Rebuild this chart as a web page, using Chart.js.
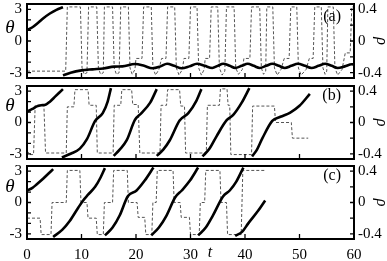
<!DOCTYPE html>
<html>
<head>
<meta charset="utf-8">
<script src="https://cdn.jsdelivr.net/npm/chart.js@4.4.1/dist/chart.umd.min.js"></script>
<style>
  body { margin:0; background:#fff; }
  #wrap { position:relative; width:387px; height:261px; }
  #wrap canvas { position:absolute; left:0; top:0; }
</style>
</head>
<body>
<div id="wrap">
  <canvas id="panelA" width="387" height="261"></canvas>
  <canvas id="panelB" width="387" height="261"></canvas>
  <canvas id="panelC" width="387" height="261"></canvas>
</div>
<script>
// ---------- DATA ----------
// tick values
const tTicks = [0,10,20,30,40,50,60];
const tMinor = [10,20,30,40,50];
const thetaTicks = [-3,0,3];
const thetaMinor = [-3,-2,-1,0,1,2,3];
const rhoTicks = [-0.4,0,0.4];
const rhoMinor = [-0.4,-0.2,0,0.2,0.4];

// panel (a): theta (solid, null = wrap) and rho (dashed)
const aThetaT = [0,1,2,3,4.2,5.4,6.6, null,
  6.6,8,10,12,14,16,17.5,19.8,21.5,23,24.5,25.7,27,28.4,29.8,31.2,32.6,34,35,36,37.2,38.2,39.4,40.5,41.6,42.7,43.9,45,46.2,47.3,48.5,49.7,51,52.2,53.5,54.7,55.9,57,58.3,59.6,60];
const aThetaV = [1.05,1.3,1.7,2.15,2.6,2.95,3.2, null,
  -3.25,-3.0,-2.78,-2.68,-2.6,-2.42,-2.4,-2.18,-2.35,-2.58,-2.4,-2.15,-2.35,-2.58,-2.4,-2.15,-2.35,-2.55,-2.35,-2.15,-2.35,-2.55,-2.35,-2.15,-2.35,-2.55,-2.35,-2.15,-2.35,-2.55,-2.35,-2.15,-2.35,-2.55,-2.35,-2.15,-2.35,-2.55,-2.4,-2.2,-2.22];
const aRhoT = [0,7.1,7.4,9.8,10.1,10.5,11.0,11.3,12.8,13.1,13.5,14.0,14.2,15.7,16.0,16.4,16.9,17.2,18.6,18.9,19.3,19.8,20.0,21.1,21.4,22.8,
  23.1,23.6,24.2,24.7,25.5,25.8,27.1,27.4,27.9,28.5,28.8,29.7,30.0,31.2,31.5,32.0,32.5,32.7,33.5,33.8,35.0,35.3,35.8,36.3,36.6,38.0,
  38.3,38.8,39.5,39.8,40.9,41.2,42.7,43.0,43.4,43.8,44.0,45.1,45.4,45.9,46.6,47.2,48.1,48.4,49.5,49.8,50.3,51.2,51.8,52.5,52.8,54.0,
  54.3,54.7,55.0,55.2,56.2,56.5,57.0,57.8,58.4,59.3,59.6,60];
const aRhoV = [-0.38,-0.38,0.43,0.43,-0.34,-0.42,-0.40,0.43,0.43,-0.34,-0.42,-0.40,0.43,0.43,-0.34,-0.42,-0.40,0.43,0.43,-0.34,-0.42,-0.36,-0.22,-0.22,0.43,0.43,
  -0.34,-0.43,-0.36,-0.22,-0.22,0.43,0.43,-0.34,-0.43,-0.36,-0.22,-0.22,0.43,0.43,-0.34,-0.43,-0.36,-0.22,-0.22,0.43,0.43,-0.34,-0.43,-0.38,0.43,0.43,
  -0.34,-0.42,-0.36,-0.22,-0.22,0.43,0.43,-0.34,-0.42,-0.38,0.43,0.43,-0.34,-0.43,-0.36,-0.22,-0.22,0.43,0.43,-0.34,-0.43,-0.36,-0.22,-0.22,0.43,0.43,
  -0.34,-0.42,-0.38,0.43,0.43,-0.34,-0.43,-0.36,-0.15,-0.15,0.43,0.43];

// panel (b)
const bThetaT = [0,1,1.8,2.6,3.4,4.2,5.2,6.6, null,
  6.4,8,9.7,11,12.5,13.9,14.8,15.4, null,
  15.9,17,18.3,19.8,21,22.6,23.8, null,
  23.8,25,26.2,28,29.6,31.1,32, null,
  32.2,33.5,34.8,36.6,37.8,39.4,40.8, null,
  41.3,42.2,43.2,45,46.5,48.3,50,51.9];
const bThetaV = [1.05,1.3,1.55,1.65,1.7,2.0,2.5,3.2, null,
  -3.35,-3.0,-2.5,-1.6,0.15,0.9,2.0,3.3, null,
  -3.2,-2.6,-1.7,0.25,0.9,1.9,3.2, null,
  -3.2,-2.6,-1.7,0.2,0.9,2.1,3.2, null,
  -3.25,-2.5,-1.3,0.2,0.7,1.9,3.3, null,
  -3.25,-2.6,-1.5,0.15,0.55,0.95,1.6,2.75];
const bRhoT = [0,0.5,1.2,1.5,3.1,3.4,7.2,7.4,8.6,8.8,11.2,11.4,12.7,12.9,15.8,16.0,17.2,17.4,19.2,19.4,20.4,20.7,24.4,24.6,25.6,25.8,28,28.2,28.9,29.1,
  32.9,33.1,35.3,35.5,36.7,36.9,37.2,37.4,41.2,41.4,45.4,45.6,48.5,48.7,51.6];
const bRhoV = [-0.36,-0.41,-0.41,0.22,0.22,-0.39,-0.39,0.2,0.2,0.42,0.42,0.22,0.22,-0.39,-0.39,0.22,0.22,0.42,0.42,0.23,0.23,-0.39,-0.39,0.22,0.22,0.42,0.42,0.21,0.21,-0.39,
  -0.39,0.22,0.22,0.43,0.43,0.22,0.22,-0.41,-0.41,0.21,0.21,0.0,0.0,-0.2,-0.2];

// panel (c)
const cThetaT = [0,1,1.8,3,4,4.8, null,
  4.8,6.5,7.8,9.4,10.3,11.2,12.5,13.5,14.3, null,
  14.3,15.7,17,18.5,20.1,21.6,23.2, null,
  22.8,24.2,25.6,27.2,28.4,29.9,31.4, null,
  31.4,32.8,34.1,36,37.2,38.4,39.7, null,
  38.2,39.5,40.6,42.4,43.7];
const cThetaV = [1.15,1.4,1.75,2.3,2.8,3.2, null,
  -3.3,-2.6,-1.8,-0.5,0.2,0.75,1.5,2.4,3.3, null,
  -3.15,-2.4,-1.25,0.6,1.15,2.1,3.35, null,
  -3.15,-2.4,-1.25,0.5,1.15,2.1,3.35, null,
  -3.15,-2.4,-1.25,0.6,1.15,2.0,3.35, null,
  -3.2,-2.8,-2.0,-0.8,0.2];
const cRhoT = [0,2.4,2.6,4.4,4.6,7.2,7.4,9.7,9.9,11.0,11.2,12.7,12.9,14.0,14.2,15.7,15.9,18.4,18.6,20.2,20.4,21.6,21.8,22.9,23.1,23.7,23.9,26.8,
  27.0,28.1,28.3,29.8,30.0,31.6,31.8,32.6,32.8,35.4,35.6,36.6,36.8,39.3,39.6,43.7];
const cRhoV = [-0.2,-0.2,-0.41,-0.41,0,0,0.41,0.41,0,0,-0.2,-0.2,-0.41,-0.41,0,0,0.41,0.41,0,0,-0.19,-0.19,-0.41,-0.41,0,0,0.41,0.41,
  0,0,-0.19,-0.19,-0.41,-0.41,0,0,0.41,0.41,0,0,-0.41,-0.41,0.41,0.41];

// ---------- HELPERS ----------
const FONT = '"Liberation Serif", "Times New Roman", serif';
const TH_MAX = 3.5, RH_MAX = 3.5*0.4/3;

// split on null into separate segments
function segments(ts, vs){
  const out = []; let cur = [];
  ts.forEach((t,i)=>{
    if(t===null){ out.push(cur); cur=[]; return; }
    cur.push({x:t, y:vs[i]});
  });
  out.push(cur);
  return out;
}

const decor = {
  id:'decor',
  afterDraw(chart, args, o){
    const {ctx, chartArea:a, scales} = chart;
    ctx.save();
    ctx.strokeStyle = '#000';
    ctx.lineWidth = 1.3;
    ctx.beginPath();
    tMinor.forEach(v=>{ const x=scales.x.getPixelForValue(v); ctx.moveTo(x,a.bottom); ctx.lineTo(x,a.bottom-5); });
    thetaMinor.forEach(v=>{ const y=scales.th.getPixelForValue(v); ctx.moveTo(a.left,y); ctx.lineTo(a.left+4,y); });
    rhoMinor.forEach(v=>{ const y=scales.rh.getPixelForValue(v); ctx.moveTo(a.right,y); ctx.lineTo(a.right-4,y); });
    ctx.stroke();
    ctx.lineWidth = 2;
    ctx.strokeRect(a.left, a.top, a.right-a.left, a.bottom-a.top);

    ctx.fillStyle = '#000';
    ctx.font = '16px ' + FONT;
    ctx.textAlign = 'right'; ctx.textBaseline = 'alphabetic';
    ctx.fillText(o.label, 341, o.labelY);

    ctx.font = 'italic 19px ' + FONT;
    ctx.textAlign = 'center'; ctx.textBaseline = 'middle';
    ctx.fillText('θ', 10, o.thetaY);

    ctx.save();
    ctx.translate(381, scales.rh.getPixelForValue(0));
    ctx.rotate(Math.PI/2);
    ctx.font = 'italic 16px ' + FONT;
    ctx.fillText('ρ', 0, 0);
    ctx.restore();

    if(o.showT){
      ctx.font = 'italic 16px ' + FONT;
      ctx.fillText('t', 210, 253);
    }
    ctx.restore();
  }
};

function makePanel(id, thT, thV, rhT, rhV, box){
  const sets = segments(thT, thV).map(seg=>({
    data:seg, yAxisID:'th', borderColor:'#000', borderWidth:2.6,
    pointRadius:0, cubicInterpolationMode:'monotone', fill:false
  }));
  sets.push({
    data:rhT.map((t,i)=>({x:t, y:rhV[i]})), yAxisID:'rh', borderColor:'#555', borderWidth:1,
    borderDash:[3,2], pointRadius:0, tension:0, fill:false
  });
  const xH = box.showT ? 22 : 0;
  return new Chart(document.getElementById(id), {
    type:'line',
    data:{ datasets:sets },
    options:{
      responsive:false, animation:false, events:[],
      layout:{ padding:{ top:box.top, bottom:261-box.bottom-xH, left:0, right:0 } },
      plugins:{ legend:{display:false}, tooltip:{enabled:false},
        decor:{ label:box.label, labelY:box.labelY, thetaY:box.thetaY, showT:box.showT } },
      scales:{
        x:{ type:'linear', min:0, max:60, display:box.showT,
            grid:{display:false, drawTicks:false}, border:{display:false},
            afterBuildTicks:s=>{ s.ticks = tTicks.map(v=>({value:v})); },
            ticks:{ padding:7, color:'#000', font:{family:FONT, size:15}, maxRotation:0 },
            afterFit:s=>{ s.height = xH; s.paddingLeft = 0; s.paddingRight = 0; } },
        th:{ type:'linear', position:'left', min:-TH_MAX, max:TH_MAX,
            grid:{display:false, drawTicks:false}, border:{display:false},
            afterBuildTicks:s=>{ s.ticks = thetaTicks.map(v=>({value:v})); },
            ticks:{ padding:5, color:'#000', font:{family:FONT, size:15}, callback:v=>String(v) },
            afterFit:s=>{ s.width = 27; s.paddingTop = 0; s.paddingBottom = 0; } },
        rh:{ type:'linear', position:'right', min:-RH_MAX, max:RH_MAX,
            grid:{display:false, drawTicks:false}, border:{display:false},
            afterBuildTicks:s=>{ s.ticks = rhoTicks.map(v=>({value:v})); },
            ticks:{ padding:4, color:'#000', font:{family:FONT, size:15}, callback:v=> v===0 ? '0' : v.toFixed(1) },
            afterFit:s=>{ s.width = 33; s.paddingTop = 0; s.paddingBottom = 0; } }
      }
    },
    plugins:[decor]
  });
}

makePanel('panelA', aThetaT, aThetaV, aRhoT, aRhoV, {top:4,   bottom:78,  label:'(a)', labelY:21,  thetaY:28,  showT:false});
makePanel('panelB', bThetaT, bThetaV, bRhoT, bRhoV, {top:86,  bottom:159, label:'(b)', labelY:100, thetaY:106, showT:false});
makePanel('panelC', cThetaT, cThetaV, cRhoT, cRhoV, {top:166, bottom:239, label:'(c)', labelY:180, thetaY:187, showT:true});
</script>
</body>
</html>
